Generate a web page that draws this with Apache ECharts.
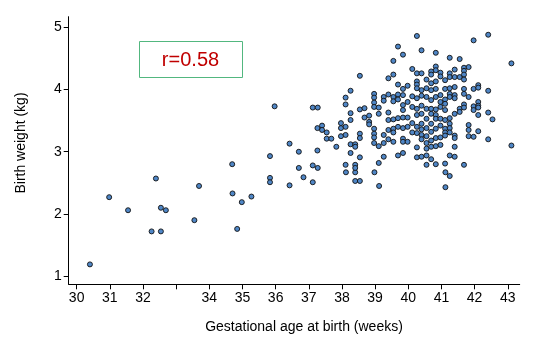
<!DOCTYPE html>
<html>
<head>
<meta charset="utf-8">
<script src="https://cdn.jsdelivr.net/npm/echarts@6/dist/echarts.min.js"></script>
<style>html,body{margin:0;padding:0;background:#fff;}#c{width:552px;height:342px;}</style>
</head>
<body>
<div id="c"></div>
<script>
// Gestational age (weeks) and birth weight (kg) pairs
var gestAge = [
30.40,30.98,31.55,32.39,32.26,32.54,32.54,32.69,33.55,33.69,34.70,34.84,34.98,35.27,35.83,35.83,34.69,35.83,35.97,
36.42,36.84,37.12,38.12,38.40,38.40,38.54,38.98,39.12,41.12,41.25,41.12,
37.12,37.27,36.42,36.70,36.70,37.12,37.27,37.26,37.26,37.40,37.40,37.54,37.54,37.68,37.83,37.97,37.97,38.11,37.97,38.11,
38.11,38.11,38.26,38.26,38.26,38.26,38.26,38.40,38.40,38.11,38.40,38.40,38.54,38.54,38.68,38.54,38.54,38.54,
38.68,38.82,38.82,38.82,38.97,38.97,38.97,38.97,38.97,38.97,38.97,38.97,39.11,39.11,39.11,39.11,
39.26,39.26,39.26,39.26,39.26,39.40,39.40,39.40,39.40,39.40,39.40,
39.55,39.55,39.55,39.55,39.55,39.55,39.55,39.55,
39.69,39.69,39.69,39.69,39.69,39.69,39.69,
39.84,39.84,39.84,39.84,39.84,39.84,39.84,39.84,39.84,39.84,
39.98,39.98,39.98,39.98,39.98,
40.12,40.12,40.12,40.12,40.12,
40.26,40.26,40.26,40.26,40.26,40.26,40.26,40.26,40.26,40.26,40.26,40.26,
40.40,40.40,40.40,40.40,40.40,40.40,40.40,40.40,40.40,40.40,40.40,
40.55,40.55,40.55,40.55,40.55,40.55,40.55,40.55,40.55,40.55,40.55,
40.69,40.69,40.69,40.69,40.69,40.69,40.69,40.69,40.69,40.69,40.69,40.69,
40.83,40.83,40.83,40.83,40.83,40.83,40.83,40.83,40.83,40.83,40.83,40.83,40.83,
40.97,40.97,40.97,40.97,40.97,40.97,40.97,40.97,40.97,
41.11,41.11,41.11,41.11,41.11,41.11,41.11,41.11,41.11,41.11,
41.25,41.25,41.25,41.25,41.25,41.25,41.25,41.25,41.25,41.25,41.25,
41.40,41.40,41.40,41.40,41.40,41.40,41.40,41.40,41.40,41.40,
41.55,41.55,41.55,41.55,
41.68,41.68,41.68,41.68,41.68,41.68,41.68,41.68,41.68,
41.82,41.82,41.82,41.82,41.82,
41.97,41.97,41.97,41.97,41.97,
42.11,42.11,42.11,42.11,42.11,42.11,42.11,
42.41,42.41,42.41,42.41,42.54,43.11,43.11
];
var birthWeight = [
1.19,2.27,2.06,2.57,1.72,2.10,1.72,2.06,1.90,2.45,2.33,1.76,2.19,2.28,2.58,2.51,2.80,2.93,3.73,
2.46,2.59,2.51,2.67,2.67,2.53,2.53,2.67,2.45,2.67,2.61,2.43,
3.71,3.71,3.13,3.00,2.74,2.78,2.74,3.02,3.38,3.42,3.35,3.31,3.21,3.21,3.08,3.46,3.38,3.40,3.25,3.27,
3.87,3.76,3.98,3.62,3.51,3.12,2.98,3.12,3.08,2.79,2.79,2.74,4.22,3.68,3.70,3.29,3.22,2.91,
3.55,3.58,3.48,3.44,3.93,3.87,3.79,3.72,3.37,3.29,3.23,3.14,3.61,3.71,3.09,2.82,
3.88,3.82,3.27,3.14,2.92,3.92,4.18,3.63,3.51,3.35,3.20,
4.46,4.24,3.88,3.81,3.52,3.37,3.31,3.16,
4.69,4.08,3.92,3.84,3.54,3.40,2.94,
4.56,4.01,3.91,3.75,3.67,3.55,3.38,3.21,3.16,2.98,
4.06,3.80,3.55,3.40,3.16,
4.33,3.89,3.72,3.46,3.31,
4.86,4.26,4.13,4.08,4.02,3.86,3.69,3.59,3.40,3.30,3.07,2.91,
4.63,4.26,3.99,3.90,3.74,3.61,3.45,3.36,3.27,3.20,2.92,
4.16,4.02,3.88,3.69,3.53,3.38,3.25,3.14,3.05,2.94,2.79,
4.29,4.24,4.10,3.99,3.83,3.69,3.61,3.45,3.32,3.18,3.08,2.88,
4.59,4.37,4.31,4.13,4.01,3.88,3.68,3.59,3.53,3.37,3.22,3.09,2.80,
4.27,4.21,3.91,3.80,3.72,3.53,3.42,3.23,3.11,
4.15,4.01,3.84,3.77,3.67,3.51,3.37,3.31,3.26,2.81,
4.51,4.26,4.20,4.02,3.93,3.88,3.54,3.45,3.38,3.31,2.94,
4.32,4.20,4.04,3.91,3.86,3.61,3.26,3.22,3.08,2.92,
4.49,4.20,3.69,3.64,
4.35,4.30,4.24,4.16,4.01,3.93,3.76,3.71,2.79,
3.43,3.35,3.25,4.36,3.88,
4.79,4.01,3.73,3.67,3.24,
4.07,4.03,3.80,3.74,3.71,3.59,3.33,
4.88,3.98,3.63,3.20,3.52,4.42,3.10
];
var xTicks = [30,31,32,33,34,35,36,37,38,39,40,41,42,43];
var xTickLabels = [30,31,32,34,35,36,37,38,39,40,41,42,43];
var yTicks = [1,2,3,4,5];
var rLabel = 'r=0.58';
var xTitle = 'Gestational age at birth (weeks)';
var yTitle = 'Birth weight (kg)';

var pts = gestAge.map(function(v,i){return [v, birthWeight[i]];});
var font = 'Liberation Sans, Arial, sans-serif';
var chart = echarts.init(document.getElementById('c'), null, {renderer:'canvas'});
chart.setOption({
  animation:false,
  backgroundColor:'#fff',
  grid:{left:68.7,right:32.3,top:16.7,bottom:57.7,containLabel:false},
  xAxis:{type:'value',min:29.76,max:43.36,
    axisLine:{show:true,lineStyle:{color:'#000',width:1}},
    axisTick:{show:true,length:5,lineStyle:{color:'#000'},customValues:xTicks},
    axisLabel:{show:true,margin:7,fontSize:14,color:'#000',fontFamily:font,customValues:xTickLabels},
    splitLine:{show:false}},
  yAxis:{type:'value',min:0.87,max:5.17,
    axisLine:{show:true,lineStyle:{color:'#000',width:1}},
    axisTick:{show:true,length:5,lineStyle:{color:'#000'},customValues:yTicks},
    axisLabel:{show:true,margin:7,fontSize:14,color:'#000',fontFamily:font,customValues:yTicks},
    splitLine:{show:false}},
  series:[{type:'scatter',data:pts,symbol:'circle',symbolSize:5,
    itemStyle:{color:'#4f86c6',borderColor:'#111',borderWidth:0.9,opacity:1}}],
  graphic:[
    {type:'rect',shape:{x:139.5,y:41.5,width:103,height:36},style:{fill:'#fff',stroke:'#52b77f',lineWidth:1}},
    {type:'text',x:190.5,y:60,style:{text:rLabel,fill:'#c00000',font:'20px '+font,textAlign:'center',textVerticalAlign:'middle'}},
    {type:'text',x:304,y:327,style:{text:xTitle,fill:'#000',font:'14px '+font,textAlign:'center',textVerticalAlign:'middle'}},
    {type:'text',x:21,y:143,rotation:Math.PI/2,style:{text:yTitle,fill:'#000',font:'14px '+font,textAlign:'center',textVerticalAlign:'middle'}}
  ]
});
</script>
</body>
</html>
